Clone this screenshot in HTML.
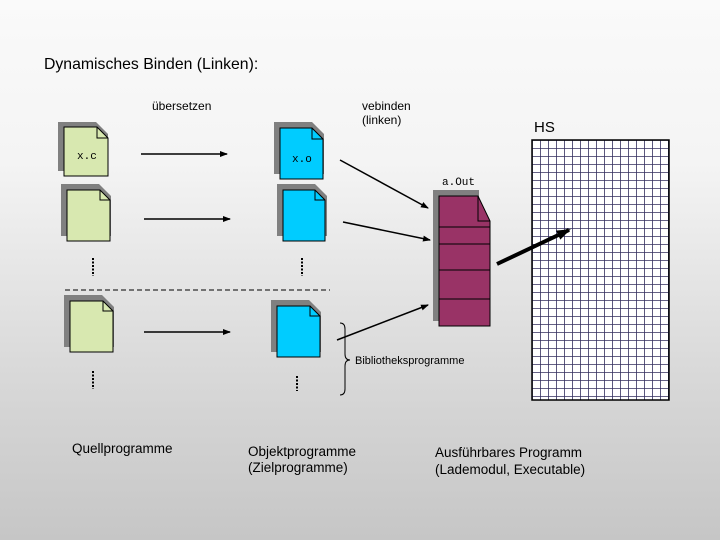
<!DOCTYPE html>
<html><head><meta charset="utf-8"><style>
html,body{margin:0;padding:0}
body{width:720px;height:540px;overflow:hidden;background:linear-gradient(#fafafa 0%,#f4f4f4 30%,#d8d8d8 70%,#c6c6c6 100%)}
svg{display:block;font-family:"Liberation Sans",sans-serif}
</style></head><body>
<svg width="720" height="540" viewBox="0 0 720 540" xmlns="http://www.w3.org/2000/svg">
<defs>
<marker id="ah" markerWidth="8" markerHeight="8" refX="7" refY="4" orient="auto" markerUnits="userSpaceOnUse">
<path d="M0,1 L8,4 L0,7 z" fill="#000"/></marker>
<marker id="ah2" markerWidth="14" markerHeight="12" refX="12" refY="6" orient="auto" markerUnits="userSpaceOnUse">
<path d="M0,1 L14,6 L0,11 z" fill="#000"/></marker>
<pattern id="grid" width="8" height="8" patternUnits="userSpaceOnUse" x="532" y="140">
<rect width="8" height="8" fill="#fff"/>
<path d="M0,0 H8 M0,0 V8" stroke="#332e5e" stroke-width="1.6" fill="none"/>
</pattern>
</defs>
<text x="44" y="69" font-size="15.8">Dynamisches Binden (Linken):</text>
<text x="152" y="110" font-size="12">übersetzen</text>
<text x="362" y="110" font-size="12">vebinden</text>
<text x="362" y="124" font-size="12">(linken)</text>
<text x="534" y="132" font-size="15">HS</text>

<g stroke="#000" stroke-width="1">
<path d="M58,122 h38 l12,12 v37 h-50 z" fill="#808080" stroke="none"/>
<path d="M64,127 h33 l11,11 v38 h-44 z" fill="#d8e8b0"/><path d="M97,127 v11 h11" fill="none"/>
<path d="M274,122 h38 l12,12 v40 h-50 z" fill="#808080" stroke="none"/>
<path d="M280,128 h32 l11,11 v40 h-43 z" fill="#00ccff"/><path d="M312,128 v11 h11" fill="none"/>
<path d="M61,184 h38 l12,12 v40 h-50 z" fill="#808080" stroke="none"/>
<path d="M67,190 h33 l10,10 v41 h-43 z" fill="#d8e8b0"/><path d="M100,190 v10 h10" fill="none"/>
<path d="M277,184 h38 l12,12 v40 h-50 z" fill="#808080" stroke="none"/>
<path d="M283,190 h32 l10,10 v41 h-42 z" fill="#00ccff"/><path d="M315,190 v10 h10" fill="none"/>
<path d="M64,295 h38 l12,12 v40 h-50 z" fill="#808080" stroke="none"/>
<path d="M70,301 h33 l10,10 v41 h-43 z" fill="#d8e8b0"/><path d="M103,301 v10 h10" fill="none"/>
<path d="M271,300 h38 l12,12 v40 h-50 z" fill="#808080" stroke="none"/>
<path d="M277,306 h33 l10,10 v41 h-43 z" fill="#00ccff"/><path d="M310,306 v10 h10" fill="none"/>
</g>
<text x="77" y="159" font-family="Liberation Mono,monospace" font-size="11">x.c</text>
<text x="292" y="162" font-family="Liberation Mono,monospace" font-size="11">x.o</text>

<g stroke="#000" stroke-width="1.5">
<line x1="141" y1="154" x2="227" y2="154" marker-end="url(#ah)"/>
<line x1="144" y1="219" x2="230" y2="219" marker-end="url(#ah)"/>
<line x1="144" y1="332" x2="230" y2="332" marker-end="url(#ah)"/>
<line x1="340" y1="160" x2="428" y2="208" marker-end="url(#ah)"/>
<line x1="343" y1="222" x2="430" y2="240" marker-end="url(#ah)"/>
<line x1="337" y1="340" x2="428" y2="305" marker-end="url(#ah)"/>
</g>

<g stroke="#000" stroke-width="2" stroke-dasharray="2,1.5">
<line x1="93" y1="258" x2="93" y2="276"/>
<line x1="302" y1="258" x2="302" y2="276"/>
<line x1="93" y1="371" x2="93" y2="389"/>
<line x1="297" y1="376" x2="297" y2="391"/>
</g>
<line x1="65" y1="290" x2="330" y2="290" stroke="#000" stroke-width="1" stroke-dasharray="5,3"/>

<path d="M340,323 q5,0 5,6 v25 q0,6 5,6 q-5,0 -5,6 v23 q0,6 -5,6" fill="none" stroke="#000" stroke-width="1"/>
<text x="355" y="364" font-size="11">Bibliotheksprogramme</text>

<text x="442" y="185" font-family="Liberation Mono,monospace" font-size="11">a.Out</text>
<rect x="433" y="190" width="46" height="131" fill="#808080"/>
<g stroke="#000" stroke-width="1">
<path d="M439,196 h39 l12,25 v105 h-51 z" fill="#993366"/>
<path d="M478,196 v25 h12" fill="none"/>
<line x1="439" y1="227" x2="490" y2="227"/>
<line x1="439" y1="244" x2="490" y2="244"/>
<line x1="439" y1="270" x2="490" y2="270"/>
<line x1="439" y1="299" x2="490" y2="299"/>
</g>

<rect x="532" y="140" width="137" height="260" fill="url(#grid)" stroke="#000" stroke-width="1.5"/>
<line x1="497" y1="264" x2="569" y2="230" stroke="#000" stroke-width="4" marker-end="url(#ah2)"/>

<g font-size="13.5">
<text x="72" y="453">Quellprogramme</text>
<text x="248" y="456">Objektprogramme</text>
<text x="248" y="472">(Zielprogramme)</text>
<text x="435" y="457">Ausführbares Programm</text>
<text x="435" y="474">(Lademodul, Executable)</text>
</g>
</svg>
</body></html>
